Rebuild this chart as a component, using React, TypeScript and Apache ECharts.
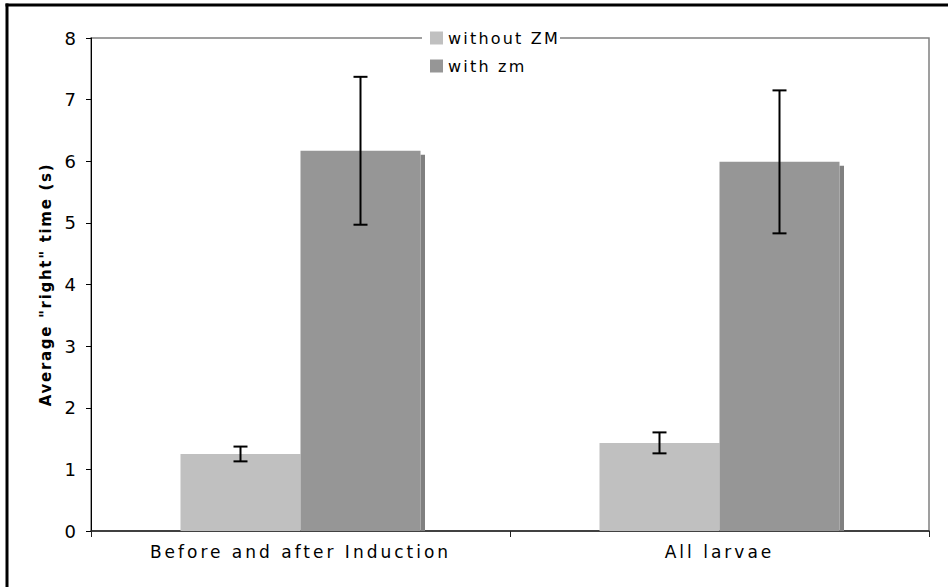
import React, { useEffect, useRef } from "react";
import * as echarts from "echarts";

const categories = ["Before and after Induction", "All larvae"];
const seriesNames = ["without ZM", "with zm"];
const withoutZM = [1.25, 1.43];
const withoutZMErr = [0.12, 0.17];
const withZM = [6.17, 5.99];
const withZMErr = [1.2, 1.16];
const yName = 'Average "right" time (s)';

const BAR_W = 120;
const LIGHT = "#c0c0c0";
const DARK = "#969696";
const SHADOW = "#808080";
const FONT = "'DejaVu Sans', Verdana, sans-serif";

export default function App() {
  const ref = useRef<HTMLDivElement>(null);
  useEffect(() => {
    document.body.style.margin = "0";
    document.body.style.overflow = "hidden";
    const el = ref.current!;
    const chart = echarts.init(el, null, { renderer: "svg" });
    const errData: number[][] = [];
    categories.forEach((_, i) => {
      errData.push([i, withoutZM[i] - withoutZMErr[i], withoutZM[i] + withoutZMErr[i], -1]);
      errData.push([i, withZM[i] - withZMErr[i], withZM[i] + withZMErr[i], 1]);
    });
    const shadowData = categories.map((_, i) => [i, withZM[i]]);
    chart.setOption({
      animation: false,
      textStyle: { fontFamily: FONT },
      grid: {
        left: 91, top: 38, right: 19, bottom: 56,
        show: true, borderColor: "#808080", borderWidth: 1.5, backgroundColor: "transparent",
      },
      graphic: [
        { type: "rect", z: 3, shape: { x: 422, y: 30, width: 138, height: 16 }, style: { fill: "#fff" } },
        { type: "line", z: 10, shape: { x1: 5.5, y1: 5, x2: 948, y2: 5 }, style: { stroke: "#000", lineWidth: 3 } },
        { type: "line", z: 10, shape: { x1: 7, y1: 3.5, x2: 7, y2: 587 }, style: { stroke: "#000", lineWidth: 3 } },
      ],
      legend: {
        data: seriesNames, orient: "vertical", left: 422, top: 27,
        itemWidth: 13, itemHeight: 13, itemGap: 12, icon: "rect",
        padding: [3, 0, 3, 8], z: 4,
        textStyle: { fontSize: 16, color: "#000", lineHeight: 16, fontFamily: FONT },
      },
      xAxis: {
        type: "category", data: categories,
        axisLine: { lineStyle: { color: "#222", width: 1.5 } },
        axisTick: { show: true, length: 6, lineStyle: { color: "#222" } },
        axisLabel: { fontSize: 17, color: "#000", margin: 12, fontFamily: FONT },
      },
      yAxis: {
        type: "value", min: 0, max: 8, interval: 1,
        name: yName, nameLocation: "middle", nameGap: 37,
        nameTextStyle: { fontWeight: "bold", fontSize: 15, color: "#000", fontFamily: FONT },
        axisLine: { show: true, lineStyle: { color: "#000", width: 1 } },
        axisTick: { show: true, length: 5, lineStyle: { color: "#000" } },
        axisLabel: { fontSize: 18, color: "#000", margin: 15, fontFamily: FONT },
        splitLine: { show: false },
      },
      series: [
        {
          type: "custom", name: "shadow", silent: true, z: 1, data: shadowData,
          renderItem: (params: any, api: any) => {
            const idx = api.value(0);
            const v = api.value(1);
            const top = api.coord([idx, v]);
            const base = api.coord([idx, 0]);
            return {
              type: "rect",
              shape: { x: top[0] + BAR_W, y: top[1] + 4, width: 4.5, height: base[1] - top[1] - 4 },
              style: { fill: SHADOW },
            };
          },
        },
        { type: "bar", name: seriesNames[0], data: withoutZM, barWidth: BAR_W, barGap: "0%", itemStyle: { color: LIGHT }, z: 2 },
        { type: "bar", name: seriesNames[1], data: withZM, barWidth: BAR_W, barGap: "0%", itemStyle: { color: DARK }, z: 2 },
        {
          type: "custom", name: "err", silent: true, z: 5, data: errData,
          renderItem: (params: any, api: any) => {
            const idx = api.value(0);
            const lo = api.value(1);
            const hi = api.value(2);
            const side = api.value(3);
            const c = api.coord([idx, 0])[0] + (side * BAR_W) / 2;
            const yLo = api.coord([idx, lo])[1];
            const yHi = api.coord([idx, hi])[1];
            const cap = 7;
            const st = { stroke: "#000", lineWidth: 2 };
            return {
              type: "group",
              children: [
                { type: "line", shape: { x1: c, y1: yHi, x2: c, y2: yLo }, style: st },
                { type: "line", shape: { x1: c - cap, y1: yHi, x2: c + cap, y2: yHi }, style: st },
                { type: "line", shape: { x1: c - cap, y1: yLo, x2: c + cap, y2: yLo }, style: st },
              ],
            };
          },
        },
      ],
    });
    const applySpacing = () => {
      el.querySelectorAll("text").forEach((t: any) => {
        const s = (t.textContent || "").trim();
        if (categories.includes(s)) t.style.letterSpacing = "3px";
        else if (seriesNames.includes(s)) t.style.letterSpacing = "2.2px";
        else if (s.indexOf("Average") >= 0 || s.indexOf("right") >= 0) t.style.letterSpacing = "1.7px";
      });
    };
    applySpacing();
    chart.on("finished", applySpacing);
    const tm = setTimeout(applySpacing, 50);
    return () => {
      clearTimeout(tm);
      chart.dispose();
    };
  }, []);
  return <div ref={ref} style={{ position: "absolute", left: 0, top: 0, width: 948, height: 587, background: "#fff" }} />;
}
